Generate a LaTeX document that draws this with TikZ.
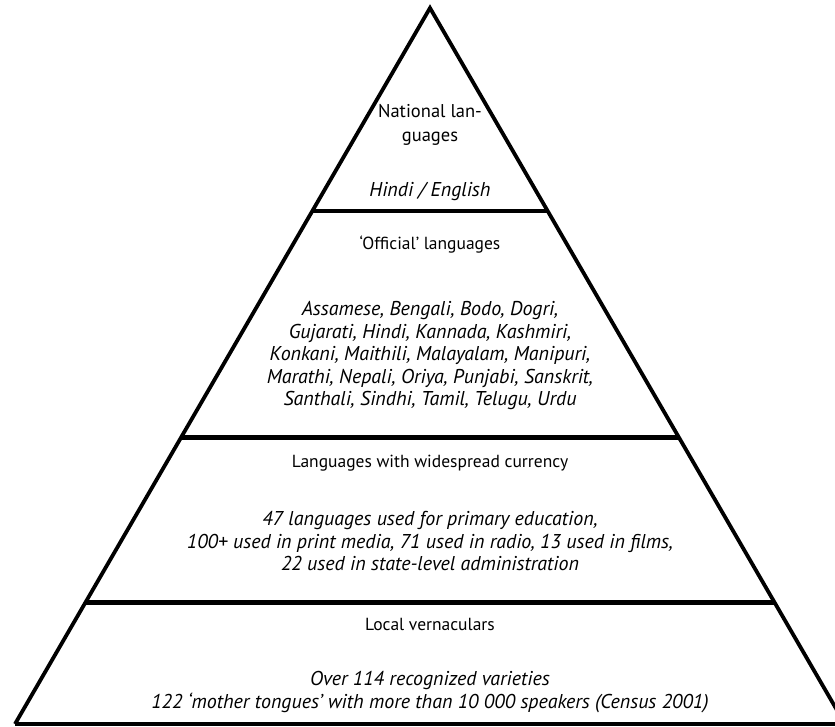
\documentclass[tikz,border=0pt]{standalone}
\usepackage{fontspec}
\setmainfont{PT Sans}
\usetikzlibrary{calc}
\begin{document}
\begin{tikzpicture}[x=1pt,y=-1pt,
  edge/.style={line width=3.8pt,line join=miter},
  divider/.style={line width=4.2pt},
  label/.style={align=center,font=\fontsize{17.5}{24}\selectfont,inner sep=0pt},
  items/.style={align=center,inner sep=0pt,font=\fontsize{20}{22.5}\selectfont\itshape}]
\useasboundingbox (0,0) rectangle (835,727);
% outline of the pyramid
\coordinate (apex) at (430,8);
\coordinate (bl) at (15,724);
\coordinate (br) at (845,724);
\draw[edge] (bl) -- (apex) -- (br);
\draw[divider] (bl) -- (br);
% tier boundaries
\foreach \n/\t in {one/0.2835,two/0.5999,three/0.8303}{
  \coordinate (\n L) at ($(apex)!\t!(bl)$);
  \coordinate (\n R) at ($(apex)!\t!(br)$);
  \draw[divider] (\n L) -- (\n R);
}
% tier 1
\node[label,font=\fontsize{18.5}{24}\selectfont] (nat) at (430,125) {National lan-\\guages};
\node[items] (natl) at (430,192) {Hindi / English};
% tier 2
\node[label] (off) at (430,245) {‘Official’ languages};
\node[items] (offl) at (430,356) {Assamese, Bengali, Bodo, Dogri,\\Gujarati, Hindi, Kannada, Kashmiri,\\Konkani, Maithili, Malayalam, Manipuri,\\Marathi, Nepali, Oriya, Punjabi, Sanskrit,\\Santhali, Sindhi, Tamil, Telugu, Urdu};
% tier 3
\node[label] (wide) at (430,463) {Languages with widespread currency};
\node[items] (widel) at (430,541) {47 languages used for primary education,\\100+ used in print media, 71 used in radio, 13 used in films,\\22 used in state-level administration};
% tier 4
\node[label] (loc) at (430,624) {Local vernaculars};
\node[items] (locl) at (430,692) {Over 114 recognized varieties\\122 ‘mother tongues’ with more than 10 000 speakers (Census 2001)};
\end{tikzpicture}
\end{document}
